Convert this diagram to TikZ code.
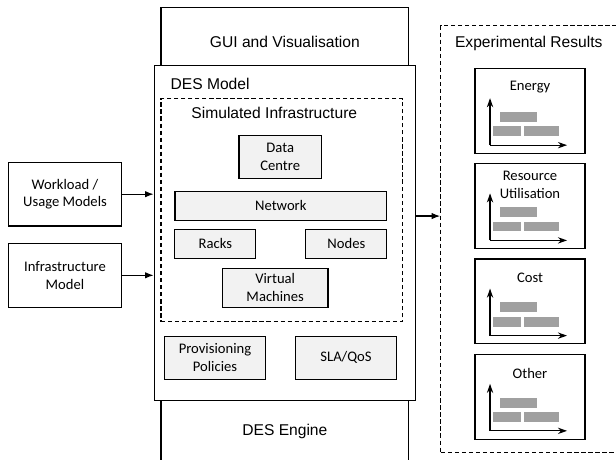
\documentclass[tikz,border=0pt]{standalone}
\usepackage{fontspec}
\setmainfont{Liberation Sans}
\newfontfamily\calfont{Carlito}
\usetikzlibrary{shapes, arrows.meta, positioning}

\definecolor{partgray}{HTML}{F2F2F2}
\definecolor{bargray}{HTML}{A0A0A0}

\tikzset{
  blk/.style={draw, rectangle, fill=white, inner sep=0pt, font=\fontsize{11.1}{13}\selectfont},
  part/.style={draw, rectangle, fill=partgray, inner sep=0pt, align=center, font=\calfont\fontsize{10.4}{12.6}\selectfont},
  inbox/.style={draw, rectangle, fill=white, inner sep=0pt, align=center, font=\calfont\fontsize{10.4}{12.6}\selectfont},
  dashbox/.style={draw, rectangle, dash pattern=on 3pt off 2pt, inner sep=0pt},
  caption/.style={inner sep=0pt, font=\fontsize{11.1}{13}\selectfont},
  chart/.style={draw, rectangle, minimum width=2.75cm, minimum height=2.12cm},
  charttitle/.style={inner sep=0pt, align=center, anchor=north, font=\calfont\fontsize{10.4}{12.6}\selectfont},
  arr/.style={-{Latex[length=6pt, width=4.5pt]}},
  axis/.style={-{Stealth[length=6.5pt, width=4.5pt]}}
}

\begin{document}
\begin{tikzpicture}[x=0.025cm, y=-0.025cm, thick]
    \clip (0,0) rectangle (616,459);

    % simulator stack
    \node (gui) [blk, minimum width=6.19cm, minimum height=1.71cm] at (284.85,41.5) {GUI and Visualisation};
    \node (engine) [blk, minimum width=6.19cm, minimum height=1.575cm] at (284.85,431.5) {DES Engine};
    \node (desmodel) [blk, minimum width=6.52cm, minimum height=8.36cm] at (284.65,232.85) {};
    \node (destitle) [caption, anchor=north west] at ([xshift=0.41cm, yshift=-0.31cm]desmodel.north west) {DES Model};

    % simulated infrastructure
    \node (siminfra) [dashbox, minimum width=6.04cm, minimum height=5.575cm] at (281.85,210.2) {};
    \node (simtitle) [caption] at (274.3,113) {Simulated Infrastructure};
    \node (dc) [part, minimum width=2.06cm, minimum height=1.08cm] at (280.2,156.7) {Data\\Centre};
    \node (network) [part, minimum width=5.29cm, minimum height=0.725cm] at (280.8,205.8) {Network};
    \node (racks) [part, minimum width=2.02cm, minimum height=0.73cm] at (215.3,243.7) {Racks};
    \node (hosts) [part, right of=racks, node distance=3.275cm, minimum width=2.02cm, minimum height=0.73cm] {Nodes};
    \node (vm) [part, minimum width=2.64cm, minimum height=0.98cm] at (275.2,287.7) {Virtual\\Machines};
    \node (prov) [part, minimum width=2.53cm, minimum height=1.08cm] at (215,357.7) {Provisioning\\Policies};
    \node (sla) [part, right of=prov, node distance=3.275cm, minimum width=2.53cm, minimum height=1.08cm] {SLA/QoS};

    % inputs
    \node (workload) [inbox, minimum width=2.83cm, minimum height=1.59cm] at (65,194.2) {Workload /\\Usage Models};
    \node (infra) [inbox, minimum width=2.83cm, minimum height=1.6cm] at (65,275.3) {Infrastructure\\Model};
    \draw[arr] (workload) -- (workload -| desmodel.west);
    \draw[arr] (infra) -- (infra -| desmodel.west);

    % results
    \node (results) [dashbox, minimum width=5.48cm, minimum height=10.66cm] at (550.35,239.15) {};
    \node (restitle) [caption] at (528.8,43) {Experimental Results};
    \node (energy) [chart] at (530,111) {};
    \node (util) [chart, below of=energy, node distance=2.38cm] {};
    \node (cost) [chart, below of=util, node distance=2.38cm] {};
    \node (other) [chart, below of=cost, node distance=2.38cm] {};
    \node (energyt) [charttitle] at ([yshift=-0.32cm]energy.north) {Energy};
    \node (utilt) [charttitle] at ([yshift=-0.185cm]util.north) {Resource\\Utilisation};
    \node (costt) [charttitle] at ([yshift=-0.36cm]cost.north) {Cost};
    \node (othert) [charttitle] at ([yshift=-0.34cm]other.north) {Other};
    \foreach \b in {energy, util, cost, other} {
        \begin{scope}[shift={([xshift=0.39cm, yshift=0.22cm]\b.south west)}]
            \fill[bargray] (10,-23.3) rectangle (47,-33.3);
            \fill[bargray] (2.7,-9) rectangle (31,-18.7);
            \fill[bargray] (33.7,-9) rectangle (68.7,-18.7);
            \draw[axis] (0,0) -- (0,-47);
            \draw[axis] (0,0) -- (77,0);
        \end{scope}
    }

    \coordinate (outpt) at ([yshift=0.42cm]desmodel.east);
    \draw[arr] (outpt) -- (outpt -| results.west);
\end{tikzpicture}
\end{document}
